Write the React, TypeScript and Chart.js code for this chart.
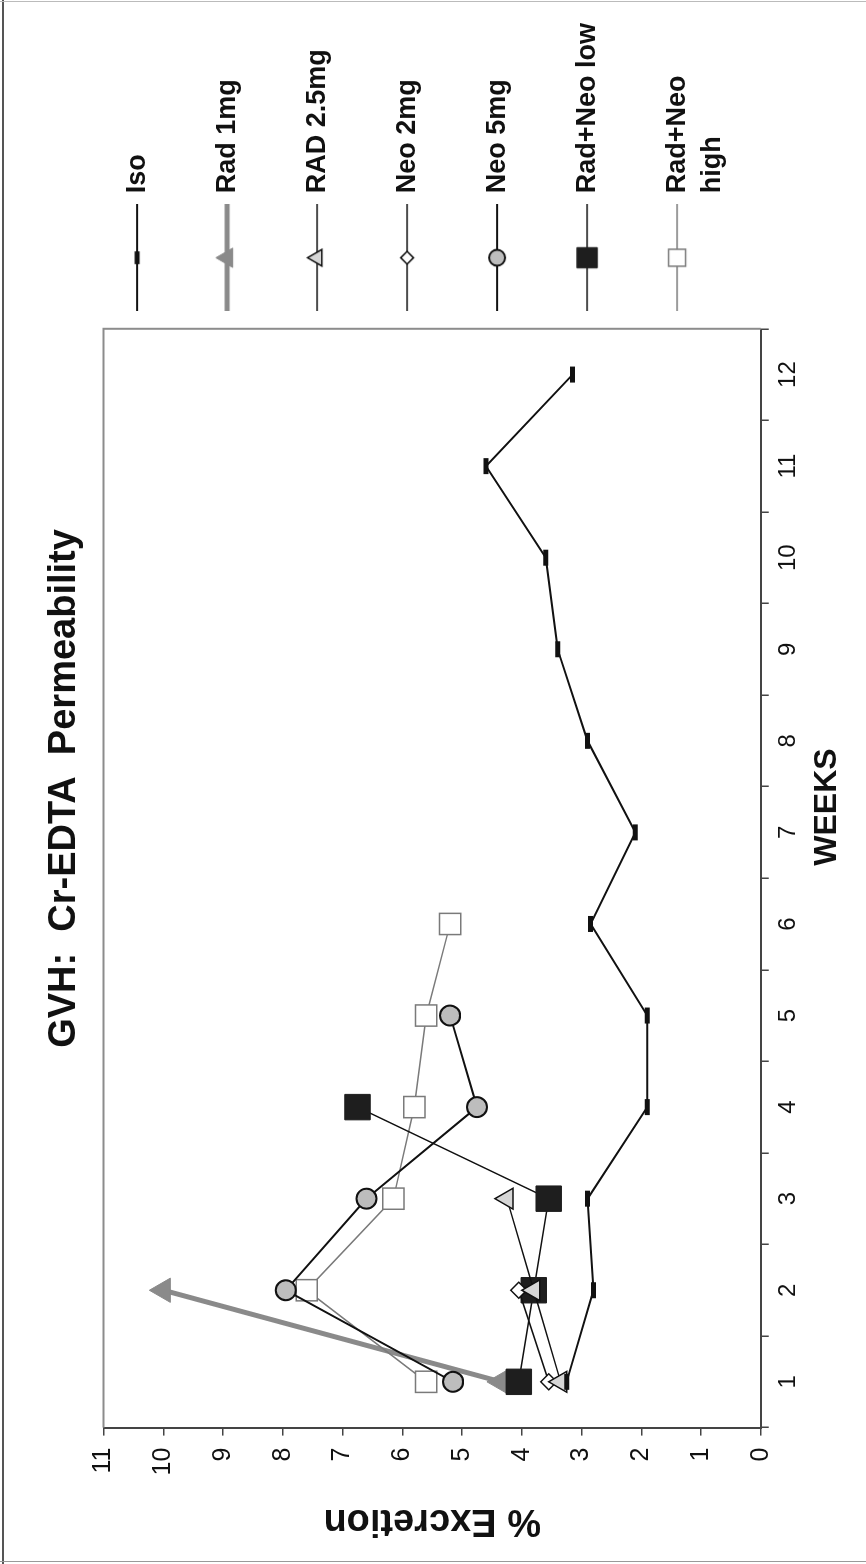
import React, { useEffect, useRef } from "react";
import { Chart, registerables } from "chart.js";
import { drawPoint } from "chart.js/helpers";

Chart.register(...registerables);

// ---- data ----
const weeks = ["1", "2", "3", "4", "5", "6", "7", "8", "9", "10", "11", "12"];
const iso = [3.25, 2.8, 2.9, 1.9, 1.9, 2.85, 2.1, 2.9, 3.4, 3.6, 4.6, 3.15];
const rad1mg = [4.35, 10.0];
const rad25mg = [3.35, 3.8, 4.25];
const neo2mg = [3.55, 4.05];
const neo5mg = [5.15, 7.95, 6.6, 4.75, 5.2];
const radNeoLow = [4.05, 3.8, 3.55, 6.75];
const radNeoHigh = [5.6, 7.6, 6.15, 5.8, 5.6, 5.2];

const seriesNames = ["Iso", "Rad 1mg", "RAD 2.5mg", "Neo 2mg", "Neo 5mg", "Rad+Neo low", "Rad+Neo high"];
const legendLines = [["Iso", ""], ["Rad 1mg", ""], ["RAD 2.5mg", ""], ["Neo 2mg", ""], ["Neo 5mg", ""], ["Rad+Neo low", ""], ["Rad+Neo", "high"]];
const chartTitle = "GVH:  Cr-EDTA  Permeability";
const xTitle = "WEEKS";
const yTitle = "% Excretion";
const yMin = 0;
const yMax = 11;

const FONT = "'Liberation Sans', Arial, Helvetica, sans-serif";

type Style = {
  borderColor: string;
  borderWidth: number;
  pointStyle: string;
  pointRadius: number;
  pointBackgroundColor: string;
  pointBorderColor: string;
  pointBorderWidth: number;
  order: number;
};

const styles: Style[] = [
  { borderColor: "#111", borderWidth: 2, pointStyle: "line", pointRadius: 8, pointBackgroundColor: "#111", pointBorderColor: "#111", pointBorderWidth: 5, order: 0 },
  { borderColor: "#8a8a8a", borderWidth: 5, pointStyle: "triangle", pointRadius: 14, pointBackgroundColor: "#8a8a8a", pointBorderColor: "#8a8a8a", pointBorderWidth: 1, order: 1 },
  { borderColor: "#111", borderWidth: 1.5, pointStyle: "triangle", pointRadius: 12, pointBackgroundColor: "#d6d6d6", pointBorderColor: "#111", pointBorderWidth: 1.5, order: 0 },
  { borderColor: "#111", borderWidth: 1.5, pointStyle: "rectRot", pointRadius: 8, pointBackgroundColor: "#ffffff", pointBorderColor: "#111", pointBorderWidth: 1.5, order: 0 },
  { borderColor: "#111", borderWidth: 2, pointStyle: "circle", pointRadius: 10, pointBackgroundColor: "#bdbdbd", pointBorderColor: "#111", pointBorderWidth: 2, order: 0 },
  { borderColor: "#111", borderWidth: 1.5, pointStyle: "rect", pointRadius: 18, pointBackgroundColor: "#1e1e1e", pointBorderColor: "#1e1e1e", pointBorderWidth: 1, order: 0 },
  { borderColor: "#7a7a7a", borderWidth: 1.5, pointStyle: "rect", pointRadius: 15, pointBackgroundColor: "#ffffff", pointBorderColor: "#7a7a7a", pointBorderWidth: 1.5, order: 0 },
];

const seriesData = [iso, rad1mg, rad25mg, neo2mg, neo5mg, radNeoLow, radNeoHigh];

function makeLegendImage(s: Style): HTMLCanvasElement {
  const w = 107;
  const h = 40;
  const c = document.createElement("canvas");
  c.width = w;
  c.height = h;
  const ctx = c.getContext("2d") as CanvasRenderingContext2D;
  ctx.strokeStyle = s.borderColor;
  ctx.lineWidth = s.borderWidth;
  ctx.beginPath();
  ctx.moveTo(0, h / 2);
  ctx.lineTo(w, h / 2);
  ctx.stroke();
  ctx.fillStyle = s.pointBackgroundColor;
  ctx.strokeStyle = s.pointBorderColor;
  ctx.lineWidth = s.pointBorderWidth;
  drawPoint(ctx, { pointStyle: s.pointStyle as any, radius: s.pointRadius * 0.8, rotation: 0, borderWidth: s.pointBorderWidth }, w / 2, h / 2);
  return c;
}

const framePlugin = {
  id: "plotFrame",
  beforeDatasetsDraw(chart: any) {
    const { ctx, chartArea } = chart;
    const { left, top, right, bottom } = chartArea;
    ctx.save();
    ctx.strokeStyle = "#8c8c8c";
    ctx.lineWidth = 2;
    ctx.beginPath();
    ctx.moveTo(left, top);
    ctx.lineTo(right, top);
    ctx.lineTo(right, bottom);
    ctx.stroke();
    ctx.restore();
  },
};

export default function App() {
  const ref = useRef<HTMLCanvasElement | null>(null);

  useEffect(() => {
    if (!ref.current) return;
    Chart.defaults.font.family = FONT;
    const images = styles.map(makeLegendImage);
    const datasets = seriesData.map((d, i) => ({
      label: seriesNames[i],
      data: d,
      borderColor: styles[i].borderColor,
      borderWidth: styles[i].borderWidth,
      pointStyle: styles[i].pointStyle as any,
      pointRadius: styles[i].pointRadius,
      pointBackgroundColor: styles[i].pointBackgroundColor,
      pointBorderColor: styles[i].pointBorderColor,
      pointBorderWidth: styles[i].pointBorderWidth,
      order: styles[i].order,
      tension: 0,
      fill: false,
    }));

    const chart = new Chart(ref.current, {
      type: "line",
      data: { labels: weeks, datasets },
      plugins: [framePlugin],
      options: {
        responsive: false,
        animation: false,
        devicePixelRatio: 1,
        layout: { padding: { left: 0, right: 13, top: 0, bottom: 0 } },
        scales: {
          x: {
            type: "category",
            position: "bottom",
            offset: true,
            grid: { display: true, offset: true, drawOnChartArea: false, drawTicks: true, tickLength: 8, color: "#444", lineWidth: 1.5 },
            border: { display: true, color: "#444", width: 2 },
            ticks: { color: "#111", font: { size: 24 }, padding: 5, maxRotation: 0, autoSkip: false },
            title: { display: true, text: " ".repeat(16) + xTitle, color: "#111", font: { size: 32, weight: "bold" }, padding: { top: 0, bottom: 20 } },
          },
          y: {
            type: "linear",
            position: "left",
            min: yMin,
            max: yMax,
            ticks: { stepSize: 1, color: "#111", font: { size: 25 }, padding: 12 },
            grid: { display: true, drawOnChartArea: false, drawTicks: true, tickLength: 8, color: "#444", lineWidth: 1.5 },
            border: { display: true, color: "#444", width: 2 },
            title: { display: true, text: yTitle, color: "#111", font: { size: 38, weight: "bold" }, padding: { top: 21, bottom: 10 } },
          },
        },
        plugins: {
          tooltip: { enabled: false },
          title: {
            display: true,
            text: chartTitle,
            color: "#111",
            font: { size: 38, weight: "bold" },
            padding: { top: 42, bottom: 16 },
          },
          legend: {
            display: true,
            position: "right",
            align: "start",
            fullSize: false,
            labels: {
              usePointStyle: true,
              boxWidth: 102,
              pointStyleWidth: 102,
              padding: 20,
              color: "#111",
              font: { size: 27, weight: "bold", lineHeight: "35px" } as any,
              generateLabels: () =>
                legendLines.map((t, i) => ({
                  text: t as any,
                  pointStyle: images[i] as any,
                  fillStyle: styles[i].pointBackgroundColor,
                  strokeStyle: styles[i].pointBorderColor,
                  lineWidth: 0,
                  hidden: false,
                  datasetIndex: i,
                  fontColor: "#111",
                })),
            },
          },
        },
      } as any,
    });
    return () => chart.destroy();
  }, []);

  return (
    <div style={{ position: "absolute", left: 0, top: 0, width: 866, height: 1564, overflow: "hidden", background: "#fff" }}>
      <div
        style={{
          position: "absolute",
          left: 0,
          top: 0,
          width: 1564,
          height: 866,
          transformOrigin: "0 0",
          transform: "translateY(1564px) rotate(-90deg)",
        }}
      >
        <canvas ref={ref} width={1564} height={866} style={{ display: "block", width: 1564, height: 866 }} />
      </div>
      <div style={{ position: "absolute", left: 2, top: 0, width: 2, height: 1564, background: "#555" }} />
      <div style={{ position: "absolute", left: 0, top: 1, width: 866, height: 1, background: "#bbb" }} />
      <div style={{ position: "absolute", left: 0, top: 1561, width: 866, height: 1, background: "#999" }} />
    </div>
  );
}
